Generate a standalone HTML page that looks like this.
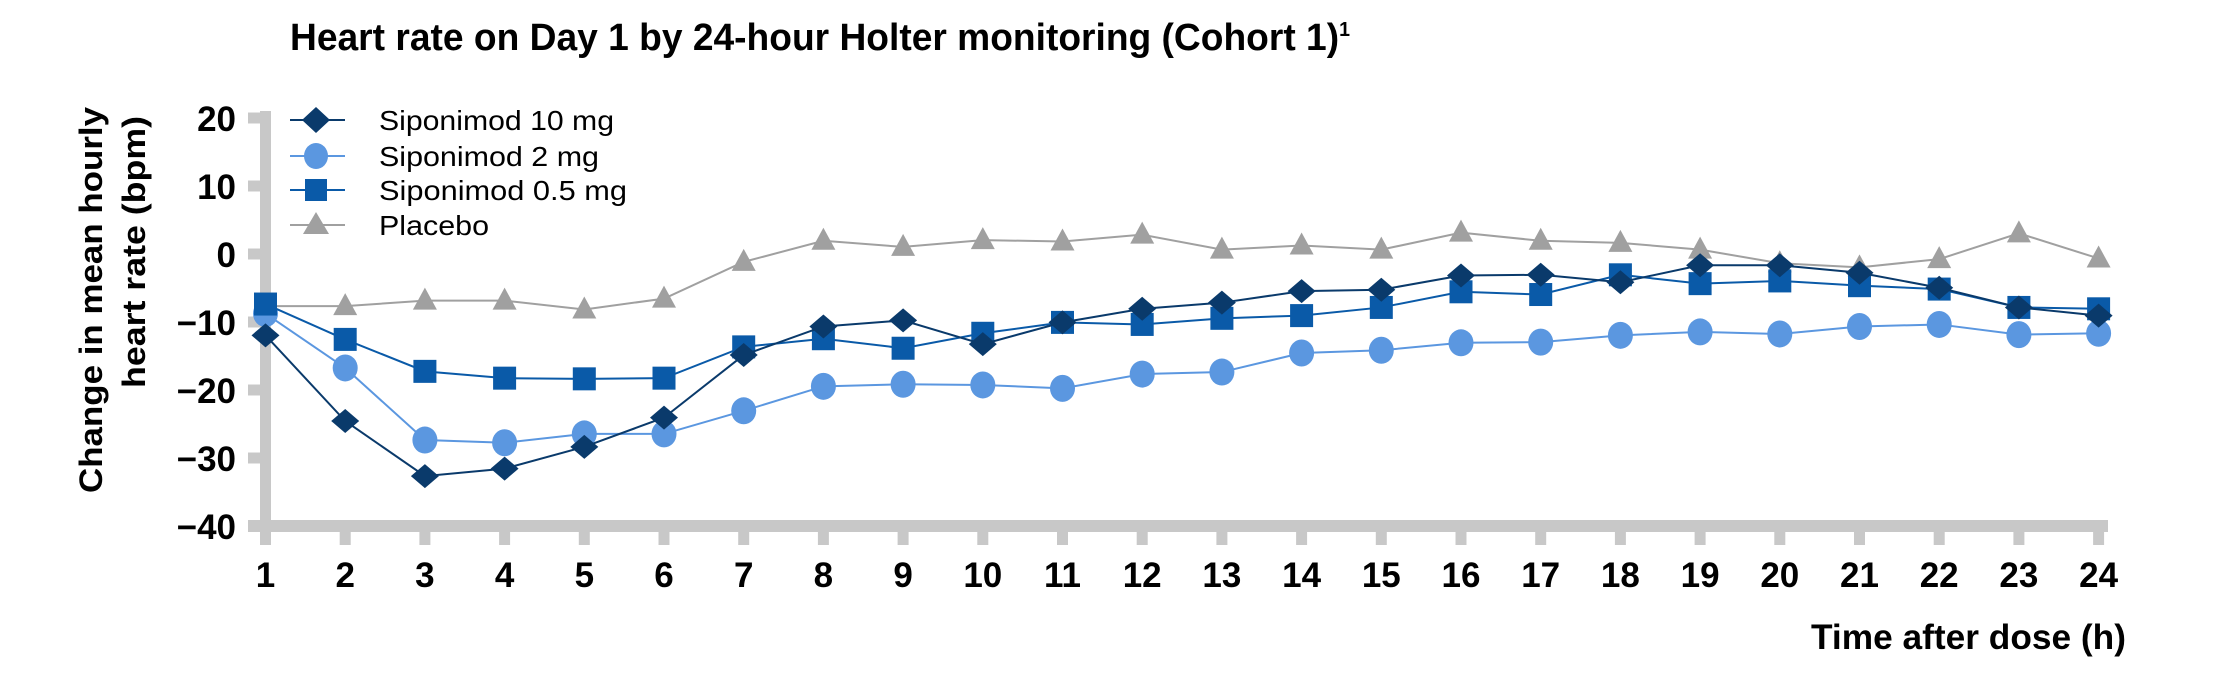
<!DOCTYPE html>
<html><head><meta charset="utf-8"><style>html,body{margin:0;padding:0;background:#fff}svg{display:block}</style></head>
<body>
<svg width="2220" height="684" xmlns="http://www.w3.org/2000/svg" font-family="'Liberation Sans Narrow','Liberation Sans',sans-serif">
<text x="290" y="50" font-size="38" font-weight="bold" textLength="1060" lengthAdjust="spacingAndGlyphs">Heart rate on Day 1 by 24-hour Holter monitoring (Cohort 1)<tspan font-size="20" dy="-14">1</tspan></text>
<g fill="#c8c8c8">
<rect x="260" y="111" width="11" height="434"/>
<rect x="248" y="520" width="1860" height="12"/>
</g>
<g stroke="#c8c8c8" stroke-width="11">
<line x1="248" y1="118" x2="265" y2="118"/><line x1="248" y1="186" x2="265" y2="186"/><line x1="248" y1="254" x2="265" y2="254"/><line x1="248" y1="322" x2="265" y2="322"/><line x1="248" y1="390" x2="265" y2="390"/><line x1="248" y1="458" x2="265" y2="458"/>
</g>
<g id="xt" stroke="#c8c8c8" stroke-width="11"></g>
<g font-size="35" font-weight="bold" text-anchor="end">
<text x="236" y="131">20</text><text x="236" y="199">10</text><text x="236" y="267">0</text><text x="236" y="335">−10</text><text x="236" y="403">−20</text><text x="236" y="471">−30</text><text x="236" y="539">−40</text>
</g>
<g id="xl" font-size="35" font-weight="bold" text-anchor="middle"></g>
<g font-family="'Liberation Sans',sans-serif" font-size="32" font-weight="bold" text-anchor="middle">
<text transform="translate(102,300) rotate(-90)" textLength="386" lengthAdjust="spacingAndGlyphs">Change in mean hourly</text>
<text transform="translate(145,252) rotate(-90)" textLength="272" lengthAdjust="spacingAndGlyphs">heart rate (bpm)</text>
</g>
<text x="1811" y="649" font-size="35" font-weight="bold" textLength="315" lengthAdjust="spacingAndGlyphs">Time after dose (h)</text>
<g font-size="28">
<line x1="290" y1="120" x2="345" y2="120" stroke="#0a3a6b" stroke-width="2"/><polygon points="316,107 330,120 316,133 302,120" fill="#0a3a6b"/>
<text x="379" y="130" textLength="235" lengthAdjust="spacingAndGlyphs">Siponimod 10 mg</text>
<line x1="290" y1="156" x2="345" y2="156" stroke="#5b97e0" stroke-width="2"/><ellipse cx="316" cy="156" rx="12" ry="13" fill="#5b97e0"/>
<text x="379" y="166" textLength="220" lengthAdjust="spacingAndGlyphs">Siponimod 2 mg</text>
<line x1="290" y1="190" x2="345" y2="190" stroke="#0a5aa8" stroke-width="2"/><rect x="305" y="179" width="22" height="22" fill="#0a5aa8"/>
<text x="379" y="200" textLength="248" lengthAdjust="spacingAndGlyphs">Siponimod 0.5 mg</text>
<line x1="290" y1="225" x2="345" y2="225" stroke="#a0a0a0" stroke-width="2"/><polygon points="316,212 329,234 303,234" fill="#a0a0a0"/>
<text x="379" y="235" textLength="110" lengthAdjust="spacingAndGlyphs">Placebo</text>
</g>
<g id="series"></g>
<script>
var NS="http://www.w3.org/2000/svg";
function X(h){return 265.5+(h-1)*79.7;}
function Y(v){return 254.4-v*6.8;}
function el(t,a,p){var e=document.createElementNS(NS,t);for(var k in a)e.setAttribute(k,a[k]);p.appendChild(e);return e;}
var xt=document.getElementById('xt'),xl=document.getElementById('xl');
for(var h=1;h<=24;h++){el('line',{x1:X(h),y1:526,x2:X(h),y2:545},xt);var t=el('text',{x:X(h),y:587},xl);t.textContent=h;}
var S=document.getElementById('series');
var pl=[-7.6,-7.6,-6.8,-6.8,-8.1,-6.5,-1.1,2,1.1,2.1,1.9,2.9,0.7,1.3,0.7,3.2,2,1.7,0.7,-1.3,-1.9,-0.7,3.1,-0.6];
var m2=[-8.7,-16.7,-27.3,-27.7,-26.4,-26.4,-23,-19.4,-19.1,-19.2,-19.7,-17.6,-17.3,-14.5,-14.1,-13,-12.9,-11.9,-11.4,-11.7,-10.6,-10.3,-11.8,-11.6];
var m05=[-7.3,-12.5,-17.2,-18.2,-18.3,-18.2,-13.6,-12.4,-13.8,-11.6,-10,-10.3,-9.4,-9,-7.8,-5.5,-5.9,-3,-4.3,-3.9,-4.6,-5.1,-7.8,-8];
var m10=[-11.9,-24.5,-32.6,-31.5,-28.3,-24,-14.8,-10.6,-9.7,-13.2,-10,-8,-7.1,-5.4,-5.2,-3.1,-3,-4.1,-1.6,-1.6,-2.7,-4.9,-7.8,-9];
function series(d,c,shape){
 var pts=d.map(function(v,i){return X(i+1)+','+Y(v);}).join(' ');
 el('polyline',{points:pts,fill:'none',stroke:c,'stroke-width':2},S);
 d.forEach(function(v,i){var x=X(i+1),y=Y(v);
  if(shape=='t')el('polygon',{points:x+','+(y-13)+' '+(x+12)+','+(y+9)+' '+(x-12)+','+(y+9),fill:c},S);
  if(shape=='c')el('ellipse',{cx:x,cy:y,rx:12.5,ry:13.5,fill:c},S);
  if(shape=='s')el('rect',{x:x-11.5,y:y-11.5,width:23,height:23,fill:c},S);
  if(shape=='d')el('polygon',{points:x+','+(y-12)+' '+(x+14)+','+y+' '+x+','+(y+12)+' '+(x-14)+','+y,fill:c},S);
 });
}
series(pl,'#a0a0a0','t');series(m2,'#5b97e0','c');series(m05,'#0a5aa8','s');series(m10,'#0a3a6b','d');
</script>
</svg>
</body></html>
